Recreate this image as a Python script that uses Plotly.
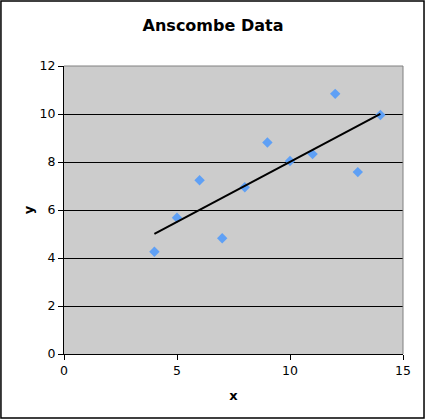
import numpy as np
import plotly.graph_objects as go

# Anscombe's quartet, set I
x_vals = [10, 8, 13, 9, 11, 14, 6, 4, 12, 7, 5]
y_vals = [8.04, 6.95, 7.58, 8.81, 8.33, 9.96, 7.24, 4.26, 10.84, 4.82, 5.68]

# linear trendline over the data span
slope, intercept = np.polyfit(x_vals, y_vals, 1)
trend_x = [min(x_vals), max(x_vals)]
trend_y = [slope * v + intercept for v in trend_x]

fig = go.Figure([
    go.Scatter(
        x=x_vals, y=y_vals,
        mode='markers',
        marker=dict(symbol='diamond', size=8, color='#5fa0f5',
                    line=dict(width=0)),
        showlegend=False,
    ),
    go.Scatter(
        x=trend_x, y=trend_y,
        mode='lines',
        line=dict(color='black', width=2),
        showlegend=False,
    ),
])

fig.update_layout(
    width=426, height=420,
    margin=dict(l=64, r=23, t=66, b=66),
    paper_bgcolor='white',
    plot_bgcolor='#cccccc',
    font=dict(family='DejaVu Sans', size=12.5, color='black'),
    title=dict(text='<b>Anscombe Data</b>', x=0.5, xanchor='center',
               y=0.94, yanchor='middle', font=dict(size=16)),
    xaxis=dict(
        range=[0, 15], tickvals=[0, 5, 10, 15],
        showgrid=False, zeroline=False,
        showline=True, linecolor='black', linewidth=1,
        ticks='outside', ticklen=5, tickcolor='black',
        title=dict(text='<b>x</b>', standoff=13, font=dict(size=13)),
    ),
    yaxis=dict(
        range=[0, 12], tickvals=[0, 2, 4, 6, 8, 10, 12],
        showgrid=True, gridcolor='black', gridwidth=1,
        zeroline=False,
        showline=True, linecolor='black', linewidth=1,
        ticks='outside', ticklen=5, tickcolor='black',
        title=dict(text='<b>y</b>', standoff=3, font=dict(size=13)),
    ),
    shapes=[
        # grey top and right edges of the plot area
        dict(type='line', xref='paper', yref='paper', x0=0, x1=1, y0=1, y1=1,
             line=dict(color='#808080', width=1), layer='above'),
        dict(type='line', xref='paper', yref='paper', x0=1, x1=1, y0=0, y1=1,
             line=dict(color='#808080', width=1), layer='above'),
        # outer chart frame
        dict(type='rect', xref='paper', yref='paper',
             x0=-0.186, x1=1.062, y0=-0.222, y1=1.226,
             line=dict(color='black', width=1.5), layer='above'),
    ],
)

fig.write_html('out.html', config={'displayModeBar': False},
               post_script="document.body.style.margin='0';")
